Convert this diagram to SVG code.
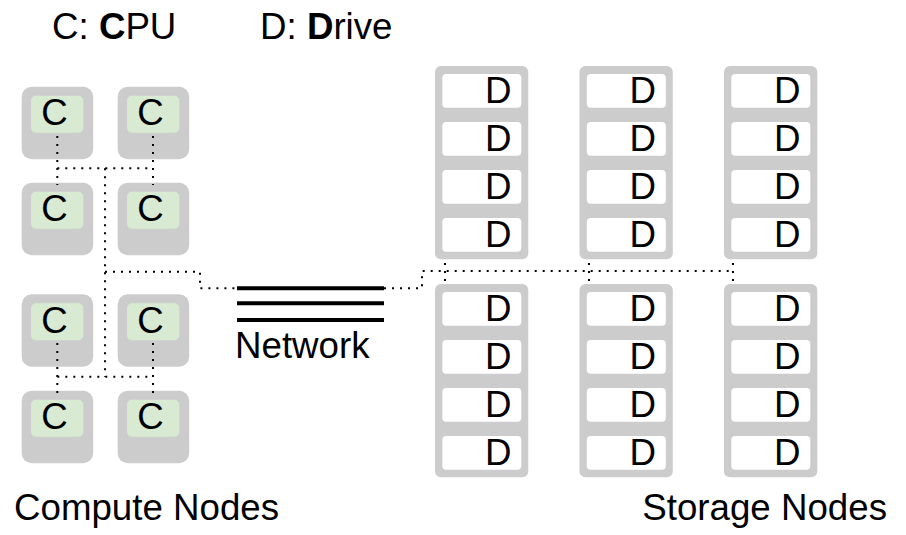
<svg xmlns="http://www.w3.org/2000/svg" width="906" height="535" viewBox="0 0 906 535">
<style>
text{font-family:"Liberation Sans",Arial,sans-serif;font-size:36.7px;fill:#000}
.cn{fill:#cccccc}
.cpu{fill:#d9ead3}
.sn{fill:#cccccc}
.slot{fill:#ffffff}
.dot{fill:none;stroke:#000;stroke-width:2;stroke-dasharray:2 6}
.net{stroke:#000;stroke-width:4}
</style>
<defs>
<g id="cnode"><rect class="cn" x="0" y="0" width="71.5" height="72.5" rx="10"/><rect class="cpu" x="9.3" y="9" width="52.3" height="37" rx="5"/><text x="32.8" y="38.8" text-anchor="middle">C</text></g>
<g id="snode"><rect class="sn" x="0" y="0" width="93.3" height="193.3" rx="6"/>
<rect class="slot" x="7.3" y="8" width="79" height="33.7" rx="4"/>
<rect class="slot" x="7.3" y="56" width="79" height="33.7" rx="4"/>
<rect class="slot" x="7.3" y="104" width="79" height="33.7" rx="4"/>
<rect class="slot" x="7.3" y="152" width="79" height="33.7" rx="4"/>
<text x="76.5" y="37.3" text-anchor="end">D</text>
<text x="76.5" y="85.3" text-anchor="end">D</text>
<text x="76.5" y="133.3" text-anchor="end">D</text>
<text x="76.5" y="181.3" text-anchor="end">D</text>
</g>
</defs>
<g id="legend">
<text x="52" y="39">C: <tspan font-weight="bold">C</tspan>PU</text>
<text x="260" y="39">D: <tspan font-weight="bold">D</tspan>rive</text>
</g>
<g id="c1"><use href="#cnode" x="21.7" y="86.7"/></g>
<g id="c2"><use href="#cnode" x="117.7" y="86.7"/></g>
<g id="c3"><use href="#cnode" x="21.7" y="182.7"/></g>
<g id="c4"><use href="#cnode" x="117.7" y="182.7"/></g>
<g id="c5"><use href="#cnode" x="21.7" y="294.3"/></g>
<g id="c6"><use href="#cnode" x="117.7" y="294.3"/></g>
<g id="c7"><use href="#cnode" x="21.7" y="390.7"/></g>
<g id="c8"><use href="#cnode" x="117.7" y="390.7"/></g>
<g id="s1"><use href="#snode" x="435" y="66"/></g>
<g id="s2"><use href="#snode" x="579.5" y="66"/></g>
<g id="s3"><use href="#snode" x="724" y="66"/></g>
<g id="s4"><use href="#snode" x="435" y="284"/></g>
<g id="s5"><use href="#snode" x="579.5" y="284"/></g>
<g id="s6"><use href="#snode" x="724" y="284"/></g>
<g id="network">
<line class="net" x1="237" y1="288.3" x2="384" y2="288.3"/>
<line class="net" x1="237" y1="303.3" x2="384" y2="303.3"/>
<line class="net" x1="237" y1="320" x2="384" y2="320"/>
<text x="235" y="358.3">Network</text>
</g>
<g id="connectors">
<path class="dot" d="M57.3,136 V185 M153,136 V185 M57.3,168.3 H153 M105,168.3 V377"/>
<path class="dot" d="M57.3,343 V393 M153,343 V393 M57.3,376.7 H153"/>
<path class="dot" d="M105,271.7 H200 V288.3 H237"/>
<path class="dot" d="M384,288.3 H422 V271 H733"/>
<path class="dot" d="M445,263 V281 M589,263 V281 M733,263 V281"/>
</g>
<g id="labels">
<text x="14" y="520">Compute Nodes</text>
<text x="887" y="520" text-anchor="end">Storage Nodes</text>
</g>
</svg>
